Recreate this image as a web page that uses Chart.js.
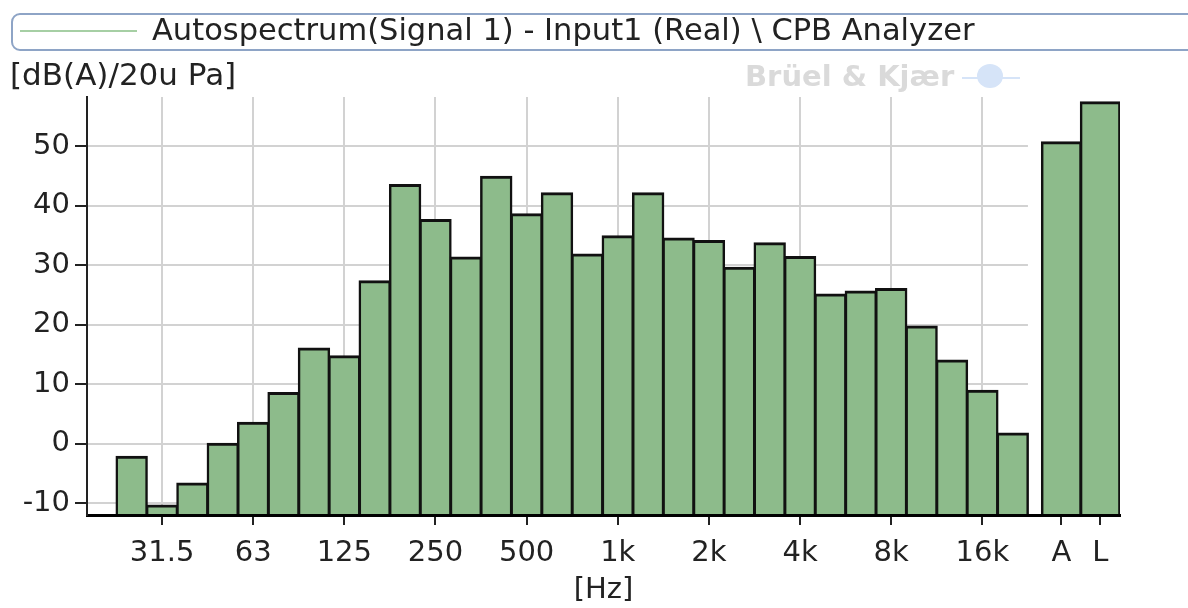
<!DOCTYPE html>
<html>
<head>
<meta charset="utf-8">
<script src="https://cdn.jsdelivr.net/npm/chart.js@4"></script>
<style>
  body { margin: 0; background: #fff; }
  #wrap { width: 1188px; height: 608px; position: relative; }
</style>
</head>
<body>
<div id="wrap"><canvas id="cpbChart"></canvas></div>
<script>
// 1/3 octave bands, then the two overall values
const bandLabels = ['25', '31.5', '40', '50', '63', '80', '100', '125', '160', '200',
  '250', '315', '400', '500', '630', '800', '1k', '1.25k', '1.6k', '2k',
  '2.5k', '3.15k', '4k', '5k', '6.3k', '8k', '10k', '12.5k', '16k', '20k'];
const bandLevels = [-2.2, -10.4, -6.7, 0.0, 3.5, 8.5, 16.0, 14.7, 27.3, 43.5,
  37.6, 31.3, 44.9, 38.6, 42.1, 31.8, 34.9, 42.1, 34.5, 34.1,
  29.6, 33.7, 31.4, 25.1, 25.6, 26.0, 19.7, 14.0, 8.9, 1.7];
const overallLabels = ['A', 'L'];
const overallLevels = [50.7, 57.4];
const tickBands = ['31.5', '63', '125', '250', '500', '1k', '2k', '4k', '8k', '16k'];
const yTicks = [-10, 0, 10, 20, 30, 40, 50];

const seriesName = 'Autospectrum(Signal 1) - Input1 (Real) \\ CPB Analyzer';
const yUnit = '[dB(A)/20u Pa]';
const xUnit = '[Hz]';

const FONT = '"DejaVu Sans", sans-serif';
const TXT = '#222';
const GRID = '#d2d2d2';
const BAR_FILL = '#8dbb8b';
const BAR_EDGE = '#111';
const Y_MIN = -12, Y_MAX = 58.3;

// overall bars sit after the last band with a small gap
const overallPos = overallLabels.map((_, j) => bandLabels.length + 0.6 + j * 1.28);
const xTicks = tickBands.map(b => ({ value: bandLabels.indexOf(b), label: b }))
  .concat(overallLabels.map((l, j) => ({ value: overallPos[j], label: l })));

const decor = {
  id: 'decor',
  beforeDatasetsDraw(chart) {
    // horizontal grid only over the band part
    const { ctx, chartArea, scales } = chart;
    const xEnd = scales.x.getPixelForValue(bandLabels.length - 0.5);
    ctx.save();
    ctx.strokeStyle = GRID;
    ctx.lineWidth = 2;
    yTicks.forEach(v => {
      const y = Math.round(scales.y.getPixelForValue(v));
      ctx.beginPath();
      ctx.moveTo(chartArea.left, y);
      ctx.lineTo(xEnd, y);
      ctx.stroke();
    });
    ctx.restore();
  },
  afterDraw(chart) {
    const { ctx } = chart;
    ctx.save();
    // legend frame
    ctx.strokeStyle = '#8ea4c6';
    ctx.lineWidth = 2;
    ctx.beginPath();
    ctx.roundRect(12, 14, 1200, 36, 8);
    ctx.stroke();
    ctx.strokeStyle = '#a6cfa4';
    ctx.lineWidth = 2;
    ctx.beginPath();
    ctx.moveTo(20, 31);
    ctx.lineTo(137, 31);
    ctx.stroke();
    ctx.fillStyle = TXT;
    ctx.font = '30.5px ' + FONT;
    ctx.textBaseline = 'middle';
    ctx.fillText(seriesName, 152, 32);
    // unit over the y axis
    ctx.font = '31px ' + FONT;
    ctx.fillText(yUnit, 10, 77);
    // watermark
    ctx.fillStyle = '#dadada';
    ctx.font = 'bold 29px ' + FONT;
    ctx.fillText('Brüel & Kjær', 745, 78);
    ctx.fillStyle = '#d6e4f8';
    ctx.strokeStyle = '#d6e4f8';
    ctx.beginPath();
    ctx.ellipse(990, 76, 13, 12, 0, 0, Math.PI * 2);
    ctx.fill();
    ctx.beginPath();
    ctx.moveTo(962, 78);
    ctx.lineTo(1020, 78);
    ctx.stroke();
    ctx.restore();
  }
};

const barStyle = {
  grouped: false,
  base: Y_MIN,
  categoryPercentage: 1,
  backgroundColor: BAR_FILL,
  borderColor: BAR_EDGE,
  inflateAmount: 1,
  borderWidth: { top: 3, left: 2.5, right: 2.5, bottom: 0 }
};

const ctx = document.getElementById('cpbChart');
new Chart(ctx, {
  type: 'bar',
  data: {
    datasets: [
      Object.assign({
        label: seriesName,
        data: bandLevels.map((v, i) => ({ x: i, y: v })),
        barPercentage: 1
      }, barStyle),
      Object.assign({
        label: 'Overall',
        data: overallLevels.map((v, j) => ({ x: overallPos[j], y: v })),
        barPercentage: 1.28
      }, barStyle)
    ]
  },
  options: {
    responsive: true,
    maintainAspectRatio: false,
    animation: false,
    layout: { padding: { top: 97, right: 68, left: 0, bottom: 0 } },
    plugins: {
      legend: { display: false },
      tooltip: { enabled: false }
    },
    scales: {
      x: {
        type: 'linear',
        offset: false,
        min: -1.47,
        max: 32.53,
        afterBuildTicks: s => { s.ticks = xTicks.map(t => ({ value: t.value })); },
        afterFit: s => { s.height = 93; },
        ticks: {
          autoSkip: false,
          maxRotation: 0,
          padding: 11,
          color: TXT,
          font: { family: FONT, size: 29 },
          callback: (v, i) => xTicks[i].label
        },
        grid: {
          offset: false,
          color: c => (c.tick && c.tick.value > bandLabels.length) ? 'rgba(0,0,0,0)' : GRID,
          tickColor: TXT,
          lineWidth: 2,
          tickLength: 10
        },
        border: { color: '#000', width: 3, z: 1 },
        title: {
          display: true,
          text: xUnit,
          color: TXT,
          font: { family: FONT, size: 29 },
          padding: { top: 4, bottom: 0 }
        }
      },
      y: {
        min: Y_MIN,
        max: Y_MAX,
        afterBuildTicks: s => { s.ticks = yTicks.map(v => ({ value: v })); },
        afterFit: s => { s.width = 87; },
        ticks: {
          padding: 5,
          color: TXT,
          font: { family: FONT, size: 29 }
        },
        grid: {
          drawOnChartArea: false,
          tickColor: TXT,
          lineWidth: 2,
          tickLength: 12
        },
        border: { color: '#222', width: 2, z: 1 }
      }
    }
  },
  plugins: [decor]
});
</script>
</body>
</html>
